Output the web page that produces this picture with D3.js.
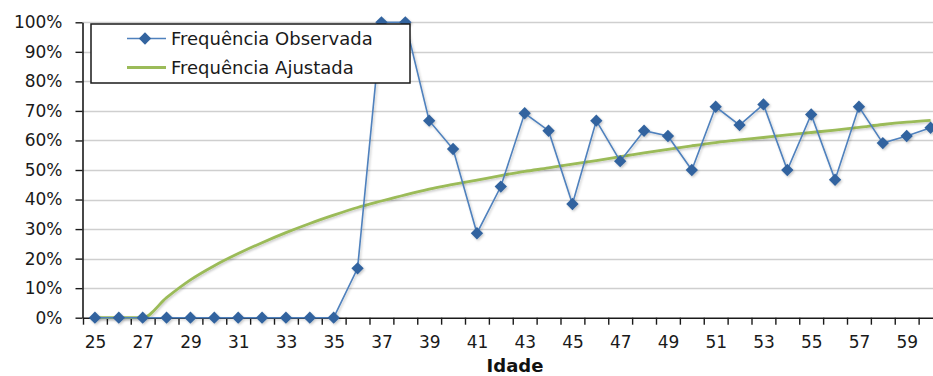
<!DOCTYPE html>
<html>
<head>
<meta charset="utf-8">
<script src="https://cdn.jsdelivr.net/npm/d3@7"></script>
<style>
  html, body { margin: 0; padding: 0; background: #fff; }
  svg { display: block; font-family: "DejaVu Sans", sans-serif; }
</style>
</head>
<body>
<svg id="chart" width="933" height="376"></svg>
<script>
// ---- Data ----
const ages = [25,26,27,28,29,30,31,32,33,34,35,36,37,38,39,40,41,42,43,44,45,46,47,48,49,50,51,52,53,54,55,56,57,58,59,60];
const observed = [0,0,0,0,0,0,0,0,0,0,0,16.7,100,100,66.7,57.1,28.6,44.4,69.2,63.3,38.5,66.7,53.0,63.3,61.5,50.0,71.4,65.2,72.2,50.0,68.8,46.7,71.4,59.1,61.5,64.3];
const fitted = [0,0,0,6.8,12.8,17.6,21.7,25.4,28.8,31.9,34.7,37.3,39.5,41.6,43.5,45.1,46.6,48.1,49.5,50.7,52.0,53.2,54.5,55.8,57.0,58.2,59.3,60.2,61.0,61.9,62.7,63.5,64.4,65.4,66.2,66.8];
const yTicks = [0,10,20,30,40,50,60,70,80,90,100];
const xLabels = [25,27,29,31,33,35,37,39,41,43,45,47,49,51,53,55,57,59];
const seriesNames = ["Frequência Observada", "Frequência Ajustada"];
const axisTitle = "Idade";

// ---- Layout ----
const svg = d3.select("#chart");
const plotLeft = 82.5, plotRight = 933, y0 = 317.7, y100 = 22.3;
const step = 23.875;

const x = d3.scaleLinear().domain([24.5, 60.5]).range([83, 83 + 36 * step]);
const y = d3.scaleLinear().domain([0, 100]).range([y0, y100]);

const defs = svg.append("defs");
const f = defs.append("filter").attr("id", "shadow").attr("x", "-20%").attr("y", "-20%").attr("width", "140%").attr("height", "140%");
f.append("feDropShadow").attr("dx", 1.2).attr("dy", 1.4).attr("stdDeviation", 1.1).attr("flood-color", "#000").attr("flood-opacity", 0.22);

// gridlines
svg.append("g")
  .selectAll("line").data(yTicks.filter(d => d > 0)).join("line")
  .attr("x1", plotLeft).attr("x2", plotRight)
  .attr("y1", d => Math.round(y(d)) + 0.5).attr("y2", d => Math.round(y(d)) + 0.5)
  .attr("stroke", "#cfcfcf").attr("stroke-width", 1.4);

// y axis
const yAxis = svg.append("g").attr("transform", `translate(${plotLeft},0)`)
  .call(d3.axisLeft(y).tickValues(yTicks).tickFormat(d => d + "%").tickSize(7).tickPadding(13).tickSizeOuter(0));
yAxis.select(".domain").attr("stroke", "#1a1a1a").attr("stroke-width", 1.6);
yAxis.selectAll(".tick line").attr("stroke", "#1a1a1a").attr("stroke-width", 1.4);
yAxis.selectAll("text").attr("font-size", 17).attr("fill", "#1a1a1a").attr("font-family", "DejaVu Sans");

// x axis ticks (boundaries)
const xb = d3.range(24.5, 61, 1);
const xAxisT = svg.append("g").attr("transform", `translate(0,${y0})`)
  .call(d3.axisBottom(x).tickValues(xb).tickFormat("").tickSize(7).tickSizeOuter(0));
xAxisT.select(".domain").attr("stroke", "#1a1a1a").attr("stroke-width", 1.6);
xAxisT.selectAll(".tick line").attr("stroke", "#1a1a1a").attr("stroke-width", 1.4);

// x labels
const xAxisL = svg.append("g").attr("transform", `translate(0,${y0})`)
  .call(d3.axisBottom(x).tickValues(xLabels).tickFormat(d3.format("d")).tickSize(0).tickPadding(18));
xAxisL.select(".domain").remove();
xAxisL.selectAll("text").attr("font-size", 17).attr("fill", "#1a1a1a").attr("font-family", "DejaVu Sans");

// axis title
svg.append("text").attr("x", 515).attr("y", 372)
  .attr("text-anchor", "middle").attr("font-weight", "bold").attr("font-size", 18)
  .attr("fill", "#111").text(axisTitle);

// series
const blueLine = "#4f81bd", blueMark = "#33649f", green = "#9bbb59";

const fitLine = d3.line().x((d, i) => x(ages[i])).y(d => y(d)).curve(d3.curveMonotoneX);
svg.append("path").datum(fitted)
  .attr("d", fitLine).attr("fill", "none").attr("stroke", green).attr("stroke-width", 2.8)
  .attr("filter", "url(#shadow)");

const obsLine = d3.line().x((d, i) => x(ages[i])).y(d => y(d));
const og = svg.append("g").attr("filter", "url(#shadow)");
og.append("path").datum(observed)
  .attr("d", obsLine).attr("fill", "none").attr("stroke", blueLine).attr("stroke-width", 1.6);

const diamond = d3.symbol().type(d3.symbolSquare).size(76);
og.selectAll("path.m").data(observed).join("path").attr("class", "m")
  .attr("d", diamond)
  .attr("transform", (d, i) => `translate(${x(ages[i])},${y(d)}) rotate(45)`)
  .attr("fill", blueMark);

// legend
const lg = svg.append("g");
lg.append("rect").attr("x", 91).attr("y", 24).attr("width", 319).attr("height", 59)
  .attr("fill", "#fff").attr("stroke", "#1a1a1a").attr("stroke-width", 1.5);
lg.append("line").attr("x1", 127).attr("x2", 166).attr("y1", 38.5).attr("y2", 38.5)
  .attr("stroke", blueLine).attr("stroke-width", 1.6);
lg.append("path").attr("d", diamond).attr("transform", "translate(145,38.5) rotate(45)").attr("fill", blueMark);
lg.append("line").attr("x1", 127).attr("x2", 166).attr("y1", 67.5).attr("y2", 67.5)
  .attr("stroke", green).attr("stroke-width", 2.8);
lg.selectAll("text").data(seriesNames).join("text")
  .attr("x", 171).attr("y", (d, i) => 44.5 + i * 29)
  .attr("font-size", 18).attr("fill", "#1a1a1a").text(d => d);
</script>
</body>
</html>
